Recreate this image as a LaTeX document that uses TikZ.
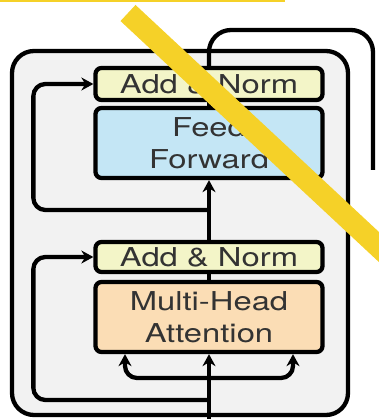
\documentclass[tikz,border=0pt]{standalone}
\usepackage{fontspec}
\setmainfont{TeX Gyre Heros}
\usetikzlibrary{arrows.meta}
\definecolor{normfill}{HTML}{F3F5C8}
\definecolor{fffill}{HTML}{C4E6F5}
\definecolor{mhafill}{HTML}{FBDDB5}
\definecolor{blockfill}{HTML}{F2F2F2}
\definecolor{strike}{HTML}{F5D128}
\definecolor{txt}{HTML}{333333}
\newcommand{\widetxt}[1]{\scalebox{1.26}[1]{#1}}
\begin{document}
\begin{tikzpicture}[x=1pt, y=-1pt, >={Stealth[length=12pt,width=13pt]}, line join = round,
	wire/.style={line width=4.3pt},
	layerbox/.style={draw, line width=4.3pt, rounded corners=6pt, minimum width=227pt,
		align=center, text=txt, font=\fontsize{26}{32}\selectfont, inner sep=0pt}]
	\useasboundingbox (0,0) rectangle (378,419);
	% outer block
	\draw[wire, fill=blockfill, rounded corners=22pt] (12,51) rectangle (348,415);
	% layers
	\node[layerbox, fill=normfill, minimum height=32pt] (ant) at (209,84) {\widetxt{Add \& Norm}};
	\node[layerbox, fill=fffill, minimum height=70pt] (ff) at (209,143) {\widetxt{Feed}\\\widetxt{Forward}};
	\node[layerbox, fill=normfill, minimum height=30pt] (anb) at (209,257) {\widetxt{Add \& Norm}};
	\node[layerbox, fill=mhafill, minimum height=70pt] (mha) at (209,317) {\widetxt{Multi-Head}\\\widetxt{Attention}};
	\coordinate (in) at (209,419);
	\coordinate (split) at (209,378);
	\coordinate (res1) at (209,400);
	\coordinate (res2) at (209,210);
	\coordinate (turn) at (373,30);
	\coordinate (outend) at (373,170);
	% connectors
	\draw[wire,->] (in) -- (mha.south);
	\draw[wire,->,rounded corners=12pt] (split) -| ([xshift=-84pt]mha.south);
	\draw[wire,->,rounded corners=12pt] (split) -| ([xshift=84pt]mha.south);
	\draw[wire,->,rounded corners=12pt] (res1) -| ([xshift=-60pt]anb.west) -- (anb.west);
	\draw[wire] (mha.north) -- (anb.south);
	\draw[wire,->] (anb.north) -- (ff.south);
	\draw[wire,->,rounded corners=12pt] (res2) -| ([xshift=-60pt]ant.west) -- (ant.west);
	\draw[wire] (ff.north) -- (ant.south);
	\draw[wire,rounded corners=22pt] (ant.north) |- (turn) -- (outend);
	% strike marks
	\fill[strike] (0,0) rectangle (285,2.5);
	\draw[strike, line width=22pt] (128,13) -- (395,262);
\end{tikzpicture}
\end{document}
